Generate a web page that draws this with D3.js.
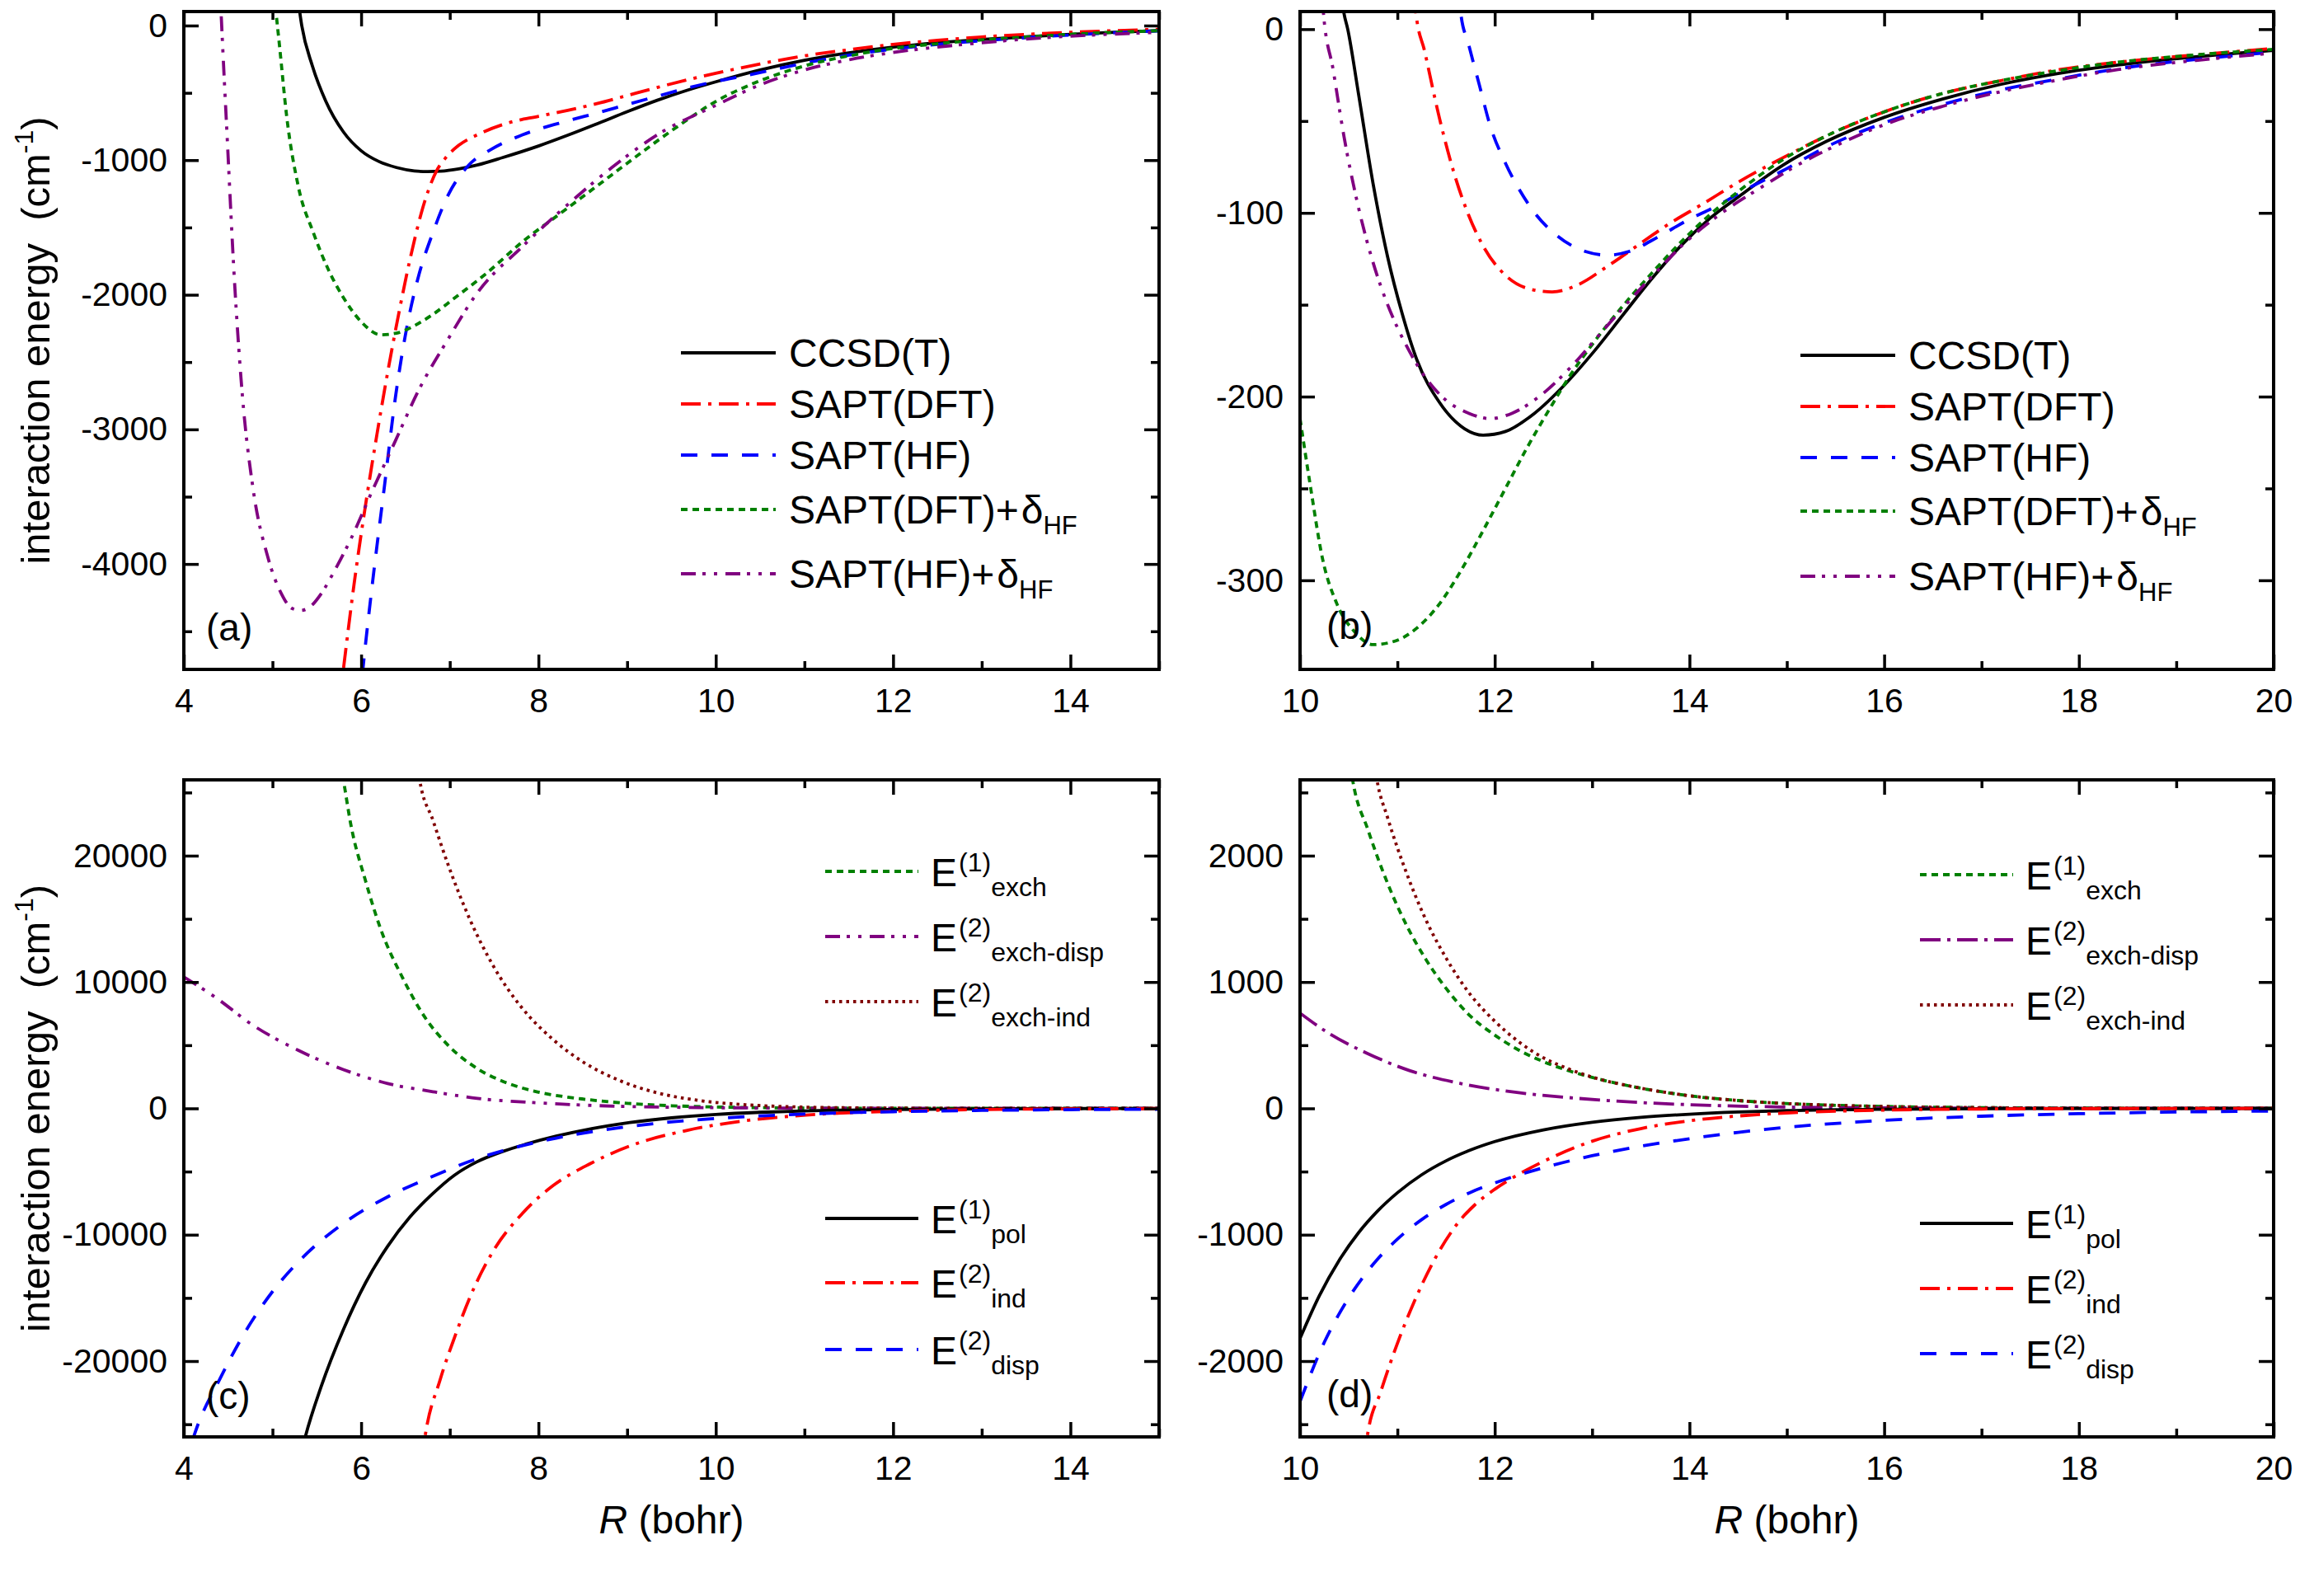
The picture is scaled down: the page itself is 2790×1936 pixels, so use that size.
<!DOCTYPE html>
<html><head><meta charset="utf-8">
<script src="https://cdn.jsdelivr.net/npm/d3@7"></script>
<style>
body{margin:0;background:#fff;}
svg{display:block;}
text{font-family:"Liberation Sans",Arial,sans-serif;fill:#000;}
</style></head><body>
<svg id="chart" width="2790" height="1936"></svg>
<script>
// ---------- Panel (a) data: R (bohr), E (cm^-1) ----------
const aCCSDT = [[5.25,400],[5.33,0],[5.45,-300],[5.6,-560],[5.8,-790],[6.0,-930],[6.2,-1010],[6.4,-1055],[6.6,-1080],[6.75,-1085],[6.9,-1082],[7.1,-1065],[7.31,-1036],[7.6,-980],[8.0,-895],[8.33,-815],[8.66,-730],[9.0,-640],[9.34,-555],[9.67,-482],[10.0,-418],[10.5,-330],[11.0,-258],[11.5,-203],[12.0,-160],[12.5,-128],[13.0,-104],[13.5,-84],[14.0,-65],[14.5,-50],[15.0,-38]];
const aSAPTDFT = [[5.75,-5050],[5.80,-4780],[5.92,-4150],[6.05,-3560],[6.18,-3030],[6.30,-2573],[6.43,-2120],[6.55,-1740],[6.72,-1300],[6.85,-1080],[6.95,-985],[7.1,-890],[7.31,-812],[7.65,-725],[8.0,-674],[8.33,-630],[8.66,-580],[9.0,-520],[9.34,-460],[9.67,-405],[10.0,-355],[10.5,-285],[11.0,-225],[11.5,-180],[12.0,-140],[12.5,-110],[13.0,-85],[13.5,-66],[14.0,-50],[14.5,-38],[15.0,-28]];
const aSAPTHF = [[5.98,-5050],[6.02,-4780],[6.13,-4128],[6.26,-3437],[6.39,-2746],[6.51,-2260],[6.64,-1880],[6.81,-1537],[6.98,-1261],[7.19,-1054],[7.48,-915],[7.82,-812],[8.33,-708],[8.66,-650],[9.0,-587],[9.34,-525],[9.67,-466],[10.0,-415],[10.35,-370],[11.0,-280],[11.5,-220],[12.0,-175],[12.5,-140],[13.0,-113],[13.5,-90],[14.0,-70],[14.5,-53],[15.0,-40]];
const aDFTdHF = [[5.0,400],[5.04,100],[5.08,-155],[5.16,-674],[5.29,-1192],[5.46,-1537],[5.63,-1813],[5.80,-2021],[6.0,-2200],[6.22,-2297],[6.4,-2285],[6.6,-2230],[6.8,-2150],[7.06,-2021],[7.4,-1848],[7.82,-1606],[8.24,-1399],[8.66,-1192],[9.08,-984],[9.51,-777],[10.01,-560],[10.5,-410],[11.0,-300],[11.5,-225],[12.0,-170],[12.5,-135],[13.0,-107],[13.5,-85],[14.0,-65],[14.5,-50],[15.0,-38]];
const aHFdHF = [[4.40,400],[4.42,100],[4.49,-846],[4.57,-1883],[4.66,-2746],[4.78,-3437],[4.95,-3955],[5.1,-4220],[5.22,-4330],[5.32,-4345],[5.42,-4320],[5.55,-4220],[5.7,-4050],[5.88,-3820],[6.13,-3450],[6.39,-3080],[6.64,-2720],[6.98,-2330],[7.31,-1986],[7.82,-1641],[8.33,-1330],[8.83,-1054],[9.34,-812],[10.01,-590],[10.5,-440],[11.0,-330],[11.5,-255],[12.0,-200],[12.5,-160],[13.0,-128],[13.5,-100],[14.0,-79],[14.5,-63],[15.0,-50]];

// ---------- Panel (b) data ----------
const bCCSDT = [[10.38,40],[10.45,9],[10.49,0],[10.6,-35],[10.75,-84],[10.9,-124],[11.05,-155],[11.2,-180],[11.43,-203],[11.65,-216],[11.88,-221],[12.11,-219],[12.41,-209],[12.71,-194],[13.01,-176],[13.31,-156],[13.61,-136],[13.91,-118],[14.21,-103],[14.51,-91],[14.96,-74],[15.41,-61],[16.0,-48],[16.6,-38],[17.2,-30],[17.8,-24],[18.4,-19.5],[19.2,-15],[20.0,-11.5]];
const bSAPTDFT = [[11.15,40],[11.19,9],[11.28,-12],[11.43,-48],[11.58,-78],[11.73,-101],[11.88,-118],[12.11,-134],[12.33,-141],[12.59,-143],[12.86,-139],[13.16,-129],[13.46,-118],[13.76,-107],[14.14,-95],[14.51,-83],[14.96,-70],[15.41,-58],[16.0,-45],[16.6,-35],[17.2,-28],[17.8,-22],[18.4,-18],[19.2,-14],[20.0,-10.5]];
const bSAPTHF = [[11.62,40],[11.65,9],[11.73,-8],[11.84,-30],[11.95,-52],[12.11,-73],[12.26,-88],[12.41,-100],[12.63,-112],[12.93,-121],[13.16,-123],[13.38,-121],[13.68,-113],[13.98,-104],[14.29,-96],[14.59,-87],[14.96,-77],[15.41,-64],[16.0,-51],[16.6,-41],[17.2,-33],[17.8,-27],[18.4,-21.5],[19.2,-16.5],[20.0,-12.5]];
const bDFTdHF = [[10.0,-212],[10.11,-250],[10.23,-288],[10.38,-313],[10.56,-328],[10.75,-335],[10.98,-333],[11.2,-326],[11.43,-313],[11.65,-295],[11.88,-273],[12.11,-250],[12.33,-228],[12.56,-207],[12.78,-188],[13.01,-171],[13.31,-151],[13.61,-133],[13.91,-116],[14.21,-101],[14.51,-88],[14.96,-71],[15.41,-58],[16.0,-45],[16.6,-35],[17.2,-28],[17.8,-22.5],[18.4,-18],[19.2,-14],[20.0,-11]];
const bHFdHF = [[10.2,40],[10.24,9],[10.34,-22],[10.45,-58],[10.6,-97],[10.75,-127],[10.9,-150],[11.09,-172],[11.28,-189],[11.5,-202],[11.73,-209],[11.95,-212],[12.18,-209],[12.48,-199],[12.78,-184],[13.08,-166],[13.38,-148],[13.68,-131],[13.98,-115],[14.36,-99],[14.74,-86],[15.11,-74],[15.56,-62],[16.0,-52],[16.6,-42],[17.2,-34],[17.8,-27.5],[18.4,-22],[19.2,-17],[20.0,-13]];

// ---------- Panel (c) data ----------
const cExch = [[5.7,30000],[5.8,26000],[5.88,22600],[6.05,18000],[6.22,14200],[6.47,10300],[6.72,7200],[6.98,5000],[7.31,3150],[7.65,2000],[7.99,1300],[8.49,750],[9.0,400],[9.5,210],[10.0,110],[10.5,58],[11.0,30],[12.0,8],[13.0,2],[15.0,0]];
const cExchDisp = [[4.0,10400],[4.36,8770],[4.78,6580],[5.29,4600],[5.80,3070],[6.30,1970],[6.81,1320],[7.31,790],[7.99,440],[8.66,220],[9.51,90],[10.35,35],[11.0,15],[12.0,5],[13.0,1],[15.0,0]];
const cExchInd = [[6.6,29000],[6.66,26000],[6.81,22800],[6.98,19300],[7.23,14900],[7.48,11400],[7.82,7900],[8.16,5480],[8.49,3730],[8.92,2190],[9.34,1230],[9.84,600],[10.35,280],[11.0,100],[11.5,45],[12.0,20],[13.0,4],[15.0,0]];
const cPol = [[5.3,-28000],[5.37,-26000],[5.55,-22000],[5.8,-17500],[6.05,-13800],[6.3,-10900],[6.55,-8600],[6.8,-6800],[7.05,-5300],[7.3,-4250],[7.6,-3400],[7.85,-2850],[8.2,-2200],[8.6,-1600],[9.0,-1150],[9.5,-750],[10.0,-480],[10.5,-310],[11.0,-200],[12.0,-85],[13.0,-35],[14.0,-15],[15.0,-6]];
const cInd = [[6.68,-28000],[6.72,-26000],[6.89,-21500],[7.06,-18000],[7.23,-14900],[7.48,-11400],[7.82,-8300],[8.16,-6140],[8.58,-4390],[9.08,-2850],[9.67,-1750],[10.35,-960],[11.02,-530],[12.04,-220],[13.05,-90],[14.06,-40],[15.0,-15]];
const cDisp = [[4.0,-28500],[4.15,-25200],[4.4,-21500],[4.7,-17600],[5.0,-14500],[5.4,-11400],[5.8,-9100],[6.3,-7000],[6.8,-5400],[7.3,-4000],[7.6,-3350],[7.85,-2900],[8.2,-2350],[8.6,-1850],[9.0,-1450],[9.5,-1070],[10.0,-800],[10.5,-600],[11.0,-450],[12.0,-260],[13.0,-160],[14.0,-100],[15.0,-68]];

// ---------- Panel (d) data ----------
const dExch = [[10.5,2800],[10.54,2600],[10.7,2200],[10.9,1780],[11.1,1440],[11.3,1170],[11.5,950],[11.75,730],[12.0,580],[12.25,460],[12.5,370],[12.75,300],[13.0,245],[13.5,160],[14.0,100],[14.5,62],[15.0,38],[15.5,24],[16.0,15],[17.0,6],[18.0,2],[20.0,0]];
const dExchDisp = [[10.0,754],[10.3,592],[10.68,439],[11.13,298],[11.65,197],[12.26,123],[12.86,79],[13.46,48],[14.21,24],[14.96,11],[16.0,4],[17.0,1.5],[20.0,0]];
const dExchInd = [[10.75,2800],[10.79,2600],[10.9,2300],[11.1,1850],[11.3,1480],[11.5,1190],[11.75,900],[12.0,690],[12.25,525],[12.5,400],[12.75,315],[13.0,248],[13.5,160],[14.0,100],[14.5,62],[15.0,38],[15.5,24],[16.0,15],[17.0,6],[18.0,2],[20.0,0]];
const dPol = [[10.0,-1820],[10.2,-1480],[10.4,-1205],[10.6,-985],[10.8,-810],[11.0,-668],[11.25,-525],[11.5,-415],[11.75,-330],[12.0,-263],[12.5,-170],[13.0,-110],[13.5,-71],[14.0,-46],[14.5,-29],[15.0,-18],[16.0,-7],[17.0,-2.5],[18.0,-1],[20.0,0]];
const dInd = [[10.66,-2800],[10.69,-2600],[10.83,-2240],[11.0,-1860],[11.17,-1535],[11.39,-1184],[11.65,-880],[11.8,-760],[12.0,-640],[12.25,-520],[12.5,-420],[13.0,-260],[13.5,-160],[14.0,-98],[14.5,-60],[15.0,-36],[15.5,-22],[16.0,-13],[17.0,-5],[18.0,-2],[20.0,0]];
const dDisp = [[10.0,-2320],[10.25,-1850],[10.5,-1500],[10.75,-1235],[11.0,-1035],[11.25,-880],[11.5,-760],[11.75,-665],[12.0,-590],[12.5,-470],[13.0,-375],[13.5,-300],[14.0,-240],[14.5,-190],[15.0,-150],[16.0,-95],[17.0,-62],[18.0,-42],[19.0,-29],[20.0,-21]];

// ---------- Axis ticks / labels ----------
const xMajorA = [4,6,8,10,12,14];
const xMinorA = [5,7,9,11,13,15];
const xMajorB = [10,12,14,16,18,20];
const xMinorB = [11,13,15,17,19];
const yMajorA = [0,-1000,-2000,-3000,-4000];
const yMinorA = [-500,-1500,-2500,-3500,-4500];
const yMajorB = [0,-100,-200,-300];
const yMinorB = [-50,-150,-250];
const yMajorC = [-20000,-10000,0,10000,20000];
const yMinorC = [-25000,-15000,-5000,5000,15000,25000];
const yMajorD = [-2000,-1000,0,1000,2000];
const yMinorD = [-2500,-1500,-500,500,1500,2500];

// ---------- Legend labels ----------
const legendAB = [
  {main:"CCSD(T)"},
  {main:"SAPT(DFT)"},
  {main:"SAPT(HF)"},
  {main:"SAPT(DFT)+", delta:true},
  {main:"SAPT(HF)+", delta:true}
];
const legendCDtop = [
  {sup:"(1)", sub:"exch"},
  {sup:"(2)", sub:"exch-disp"},
  {sup:"(2)", sub:"exch-ind"}
];
const legendCDbot = [
  {sup:"(1)", sub:"pol"},
  {sup:"(2)", sub:"ind"},
  {sup:"(2)", sub:"disp"}
];

// ---------- Styles ----------
const BLACK="#000000", RED="#ff0000", BLUE="#0000ff", GREEN="#008000", PURPLE="#800080", BROWN="#800000";
const DASH = {
  solid:null,
  dashdot:"24,9,4,9",
  dash:"20,17",
  short:"8,6",
  dashdotdot:"18,8,4,10,4,10",
  longdashdot:"25,8,4,8",
  dot:"3.5,5"
};

const svg = d3.select("#chart");
const defs = svg.append("defs");
const FONT = '"Liberation Sans", Arial, sans-serif';

function drawPanel(p){
  const [X0,X1,Y0,Y1] = p.box;
  const x = d3.scaleLinear().domain(p.xDomain).range([X0,X1]);
  const y = d3.scaleLinear().domain(p.yDomain).range([Y1,Y0]);
  const cid = "clip-"+p.id;
  defs.append("clipPath").attr("id",cid).append("rect")
    .attr("x",X0).attr("y",Y0).attr("width",X1-X0).attr("height",Y1-Y0);
  const g = svg.append("g");
  const line = d3.line().x(d=>x(d[0])).y(d=>y(d[1])).curve(d3.curveMonotoneX);
  p.series.forEach(s=>{
    g.append("path").datum(s.data).attr("d",line)
      .attr("fill","none").attr("stroke",s.color).attr("stroke-width",3.8)
      .attr("stroke-dasharray",s.dash).attr("clip-path",`url(#${cid})`);
  });
  function styleAxis(sel){
    sel.select(".domain").remove();
    sel.attr("font-family",FONT).attr("font-size",41);
    sel.selectAll("line").attr("stroke","#000").attr("stroke-width",3.5);
    sel.selectAll("text").attr("fill","#000");
  }
  // major ticks
  g.append("g").attr("transform",`translate(0,${Y1})`)
    .call(d3.axisBottom(x).tickValues(p.xMajor).tickSize(-18).tickPadding(23).tickFormat(d=>String(d))).call(styleAxis);
  g.append("g").attr("transform",`translate(0,${Y0})`)
    .call(d3.axisTop(x).tickValues(p.xMajor).tickSize(-18).tickFormat("")).call(styleAxis);
  g.append("g").attr("transform",`translate(${X0},0)`)
    .call(d3.axisLeft(y).tickValues(p.yMajor).tickSize(-18).tickPadding(20).tickFormat(d=>String(d))).call(styleAxis);
  g.append("g").attr("transform",`translate(${X1},0)`)
    .call(d3.axisRight(y).tickValues(p.yMajor).tickSize(-18).tickFormat("")).call(styleAxis);
  // minor ticks
  g.append("g").attr("transform",`translate(0,${Y1})`)
    .call(d3.axisBottom(x).tickValues(p.xMinor).tickSize(-10).tickFormat("")).call(styleAxis);
  g.append("g").attr("transform",`translate(0,${Y0})`)
    .call(d3.axisTop(x).tickValues(p.xMinor).tickSize(-10).tickFormat("")).call(styleAxis);
  g.append("g").attr("transform",`translate(${X0},0)`)
    .call(d3.axisLeft(y).tickValues(p.yMinor).tickSize(-10).tickFormat("")).call(styleAxis);
  g.append("g").attr("transform",`translate(${X1},0)`)
    .call(d3.axisRight(y).tickValues(p.yMinor).tickSize(-10).tickFormat("")).call(styleAxis);
  // frame
  g.append("rect").attr("x",X0).attr("y",Y0).attr("width",X1-X0).attr("height",Y1-Y0)
    .attr("fill","none").attr("stroke","#000").attr("stroke-width",4);
  // panel label
  g.append("text").attr("x",p.label[1]).attr("y",p.label[2]).attr("font-size",46).text(p.label[0]);
  return {x,y,g};
}

function legendAB_draw(g, lx, rows, series){
  legendAB.forEach((L,i)=>{
    const s = series[i];
    const yy = rows[i];
    g.append("line").attr("x1",lx).attr("x2",lx+115).attr("y1",yy).attr("y2",yy)
      .attr("stroke",s.color).attr("stroke-width",3.8).attr("stroke-dasharray",s.dash);
    const t = g.append("text").attr("x",lx+131).attr("y",yy+17).attr("font-size",48);
    t.append("tspan").text(L.main);
    if(L.delta){
      t.append("tspan").attr("dx",3).text("δ");
      t.append("tspan").attr("font-size",31).attr("dy",13).text("HF");
    }
  });
}
function legendCD_draw(g, lx, rows, labels, series){
  labels.forEach((L,i)=>{
    const s = series[i];
    const yy = rows[i];
    g.append("line").attr("x1",lx).attr("x2",lx+113).attr("y1",yy).attr("y2",yy)
      .attr("stroke",s.color).attr("stroke-width",3.8).attr("stroke-dasharray",s.dash);
    const t = g.append("text").attr("x",lx+128).attr("y",yy+18).attr("font-size",48);
    t.append("tspan").text("E");
    t.append("tspan").attr("font-size",32).attr("dx",2).attr("dy",-18).text(L.sup);
    t.append("tspan").attr("font-size",32).attr("dy",30).text(L.sub);
  });
}

// ---------- Panel (a) ----------
const serA = [
  {data:aCCSDT,color:BLACK,dash:DASH.solid},
  {data:aSAPTDFT,color:RED,dash:DASH.dashdot},
  {data:aSAPTHF,color:BLUE,dash:DASH.dash},
  {data:aDFTdHF,color:GREEN,dash:DASH.short},
  {data:aHFdHF,color:PURPLE,dash:DASH.dashdotdot}
];
const pa = drawPanel({id:"a",box:[223,1406,14,812],xDomain:[4,15],yDomain:[-4783,104],
  xMajor:xMajorA,xMinor:xMinorA,yMajor:yMajorA,yMinor:yMinorA,series:serA,label:["(a)",250,777]});
legendAB_draw(pa.g, 826, [428,490,552,618,696], serA);

// ---------- Panel (b) ----------
const serB = [
  {data:bCCSDT,color:BLACK,dash:DASH.solid},
  {data:bSAPTDFT,color:RED,dash:DASH.dashdot},
  {data:bSAPTHF,color:BLUE,dash:DASH.dash},
  {data:bDFTdHF,color:GREEN,dash:DASH.short},
  {data:bHFdHF,color:PURPLE,dash:DASH.dashdotdot}
];
const pb = drawPanel({id:"b",box:[1577,2758,14,812],xDomain:[10,20],yDomain:[-348.5,9.6],
  xMajor:xMajorB,xMinor:xMinorB,yMajor:yMajorB,yMinor:yMinorB,series:serB,label:["(b)",1609,775]});
legendAB_draw(pb.g, 2184, [431,493,555,620,699], serB);

// ---------- Panel (c) ----------
const serCtop = [
  {data:cExch,color:GREEN,dash:DASH.short},
  {data:cExchDisp,color:PURPLE,dash:DASH.dashdotdot},
  {data:cExchInd,color:BROWN,dash:DASH.dot}
];
const serCbot = [
  {data:cPol,color:BLACK,dash:DASH.solid},
  {data:cInd,color:RED,dash:DASH.dashdot},
  {data:cDisp,color:BLUE,dash:DASH.dash}
];
const pc = drawPanel({id:"c",box:[223,1406,946,1743],xDomain:[4,15],yDomain:[-26000,26000],
  xMajor:xMajorA,xMinor:xMinorA,yMajor:yMajorC,yMinor:yMinorC,series:serCtop.concat(serCbot),label:["(c)",250,1709]});
legendCD_draw(pc.g, 1001, [1057,1136,1215], legendCDtop, serCtop);
legendCD_draw(pc.g, 1001, [1478,1556,1637], legendCDbot, serCbot);

// ---------- Panel (d) ----------
const serDtop = [
  {data:dExch,color:GREEN,dash:DASH.short},
  {data:dExchDisp,color:PURPLE,dash:DASH.longdashdot},
  {data:dExchInd,color:BROWN,dash:DASH.dot}
];
const serDbot = [
  {data:dPol,color:BLACK,dash:DASH.solid},
  {data:dInd,color:RED,dash:DASH.dashdot},
  {data:dDisp,color:BLUE,dash:DASH.dash}
];
const pd = drawPanel({id:"d",box:[1577,2758,946,1743],xDomain:[10,20],yDomain:[-2600,2600],
  xMajor:xMajorB,xMinor:xMinorB,yMajor:yMajorD,yMinor:yMinorD,series:serDtop.concat(serDbot),label:["(d)",1609,1707]});
legendCD_draw(pd.g, 2329, [1061,1140,1219], legendCDtop, serDtop);
legendCD_draw(pd.g, 2329, [1484,1563,1642], legendCDbot, serDbot);

// ---------- Axis titles ----------
function yTitle(cx, cy){
  const t = svg.append("text").attr("transform",`translate(${cx},${cy}) rotate(-90)`)
    .attr("text-anchor","middle").attr("font-size",49);
  t.append("tspan").text("interaction energy\u00a0\u00a0(cm");
  t.append("tspan").attr("font-size",32).attr("dy",-20).text("-1");
  t.append("tspan").attr("dy",20).text(")");
}
yTitle(60, 413);
yTitle(60, 1344.5);
function xTitle(cx){
  const t = svg.append("text").attr("x",cx).attr("y",1860).attr("text-anchor","middle").attr("font-size",48);
  t.append("tspan").attr("font-style","italic").text("R");
  t.append("tspan").text(" (bohr)");
}
xTitle((223+1406)/2);
xTitle((1577+2758)/2);
</script>
</body></html>
